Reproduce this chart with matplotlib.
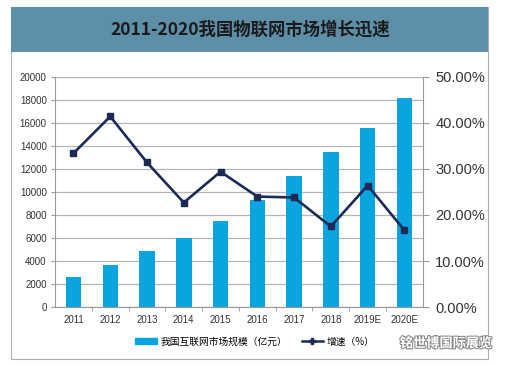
import matplotlib.pyplot as plt
import matplotlib.patheffects as pe
from matplotlib.patches import Rectangle
from matplotlib.lines import Line2D

plt.rcParams['font.family'] = ['Noto Sans CJK SC', 'DejaVu Sans']
narrow = ['Liberation Sans', 'DejaVu Sans']

# --- Data ---
years = ['2011', '2012', '2013', '2014', '2015', '2016', '2017', '2018', '2019E', '2020E']
market_size = [2600, 3650, 4900, 6000, 7500, 9300, 11400, 13450, 15550, 18200]
growth_pct = [33.4, 41.4, 31.4, 22.7, 29.4, 24.0, 23.8, 17.5, 26.4, 16.7]
left_ticks = list(range(0, 20001, 2000))
right_ticks = [0, 10, 20, 30, 40, 50]

bar_color = '#0aa5e0'
line_color = '#1c2a55'
banner_color = '#5e8fa9'

fig = plt.figure(figsize=(5.1, 3.66), dpi=100)

# outer frame and title banner
fig.patches.append(Rectangle((0.022, 0.018), 0.935, 0.963, transform=fig.transFigure,
                             facecolor='none', edgecolor='#b0b0b0', linewidth=0.8, zorder=-1))
fig.patches.append(Rectangle((0.022, 0.858), 0.935, 0.123, transform=fig.transFigure,
                             facecolor=banner_color, edgecolor='none', zorder=-1))
fig.text(0.49, 0.92, '2011-2020我国物联网市场增长迅速', ha='center', va='center',
         fontsize=12.5, fontweight='bold', color='#1a1a1a')

ax = fig.add_axes([0.108, 0.161, 0.721, 0.629])
ax.patch.set_alpha(0)
x = list(range(len(years)))
ax.bar(x, market_size, width=0.42, color=bar_color, zorder=2)
ax.set_ylim(0, 20000)
ax.set_xlim(-0.5, len(years) - 0.5)
ax.set_yticks(left_ticks)
ax.set_yticklabels([str(t) for t in left_ticks], fontsize=7, color='#333333', family=narrow)
ax.yaxis.grid(True, color='#b5b5b5', linewidth=0.9, zorder=0)
ax.set_axisbelow(True)
ax.set_xticks(x)
ax.set_xticklabels(years, fontsize=7, color='#333333', family=narrow)
ax.set_xticks([i + 0.5 for i in x[:-1]], minor=True)
ax.tick_params(axis='x', which='major', length=0, pad=6)
ax.tick_params(axis='x', which='minor', length=3, color='#999999')
ax.tick_params(axis='y', length=3, color='#999999', pad=3)
for side in ['top', 'right']:
    ax.spines[side].set_visible(False)
ax.spines['left'].set_color('#999999')
ax.spines['bottom'].set_color('#999999')

ax2 = ax.twinx()
ax2.plot(x, growth_pct, color=line_color, linewidth=1.9, marker='s', markersize=5, zorder=3)
ax2.set_ylim(0, 50)
ax2.set_yticks(right_ticks)
ax2.set_yticklabels(['%.2f%%' % t for t in right_ticks], fontsize=10.5, color='#333333', family=narrow)
ax2.tick_params(axis='y', length=4, color='#999999', pad=5)
for side in ['top', 'left', 'bottom']:
    ax2.spines[side].set_visible(False)
ax2.spines['right'].set_color('#999999')

handles = [Rectangle((0, 0), 1, 1, color=bar_color),
           Line2D([], [], color=line_color, linewidth=1.8, marker='P', markersize=5)]
fig.legend(handles, ['我国互联网市场规模（亿元）', '增速（%）'], loc='center',
           bbox_to_anchor=(0.5, 0.067), ncol=2, frameon=False, fontsize=7,
           handlelength=2.2, handleheight=0.6, columnspacing=1.5, handletextpad=0.4)

fig.text(0.875, 0.062, '铭世博国际展览', ha='center', va='center', fontsize=9.5,
         color='white', fontweight='bold',
         path_effects=[pe.withStroke(linewidth=1.5, foreground='#888888')])

fig.savefig('out.png', dpi=100)
